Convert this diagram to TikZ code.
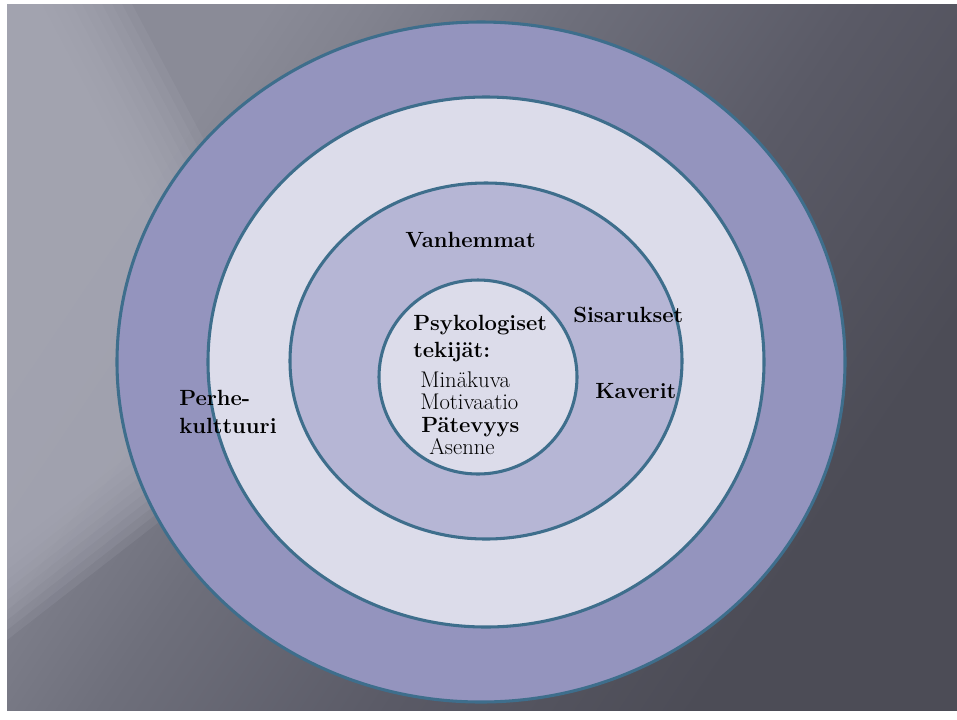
\documentclass[tikz,border=0pt]{standalone}
\usepackage{fontspec}
\definecolor{ringline}{HTML}{3E6E8C}
\definecolor{ringA}{HTML}{9494BE}
\definecolor{ringB}{HTML}{DCDCEA}
\definecolor{ringC}{HTML}{B6B6D5}
\definecolor{bgL}{HTML}{A9AAB7}
\definecolor{bgA}{HTML}{8A8B97}
\definecolor{bgA2}{HTML}{82838F}
\definecolor{bgB}{HTML}{6E6F7B}
\definecolor{bgC}{HTML}{5A5A66}
\definecolor{bgD}{HTML}{4C4C56}
\pgfdeclarehorizontalshading{bgshade}{100bp}{color(0bp)=(bgA); color(28bp)=(bgA); color(33bp)=(bgA2); color(43bp)=(bgB); color(57bp)=(bgC); color(72bp)=(bgD); color(100bp)=(bgD)}
\begin{document}
\begin{tikzpicture}[x=0.75pt,y=-0.75pt,
  ring/.style={draw=ringline,line width=2.3pt},
  head/.style={font=\fontsize{16.5}{20}\selectfont\bfseries,anchor=base west,inner sep=0pt,text=black},
  item/.style={font=\fontsize{17}{20}\selectfont,anchor=base west,inner sep=0pt,text=black}]
\useasboundingbox (0,0) rectangle (957,719);
\fill[white] (0,0) rectangle (957,719);
\shade[shading=bgshade,shading angle=-34] (7,4) rectangle (957,710);
% light diagonal streak (soft edges by stacking)
\foreach \i in {0,...,9}{
  \pgfmathsetmacro{\h}{\i*10}
  \pgfmathsetmacro{\v}{\i*10}
  \pgfmathsetmacro{\xt}{132-\h}
  \pgfmathsetmacro{\xi}{(471.4-\h-0.529*\v)/1.411}
  \pgfmathsetmacro{\yi}{640-\v-0.777*(\xi-7)}
  \pgfmathsetmacro{\yl}{640-\v}
  \fill[bgL,opacity=0.17] (7,4) -- (\xt,4) -- (\xi,\yi) -- (7,\yl) -- cycle;
}
% rings
\filldraw[ring,fill=ringA] (481,362) ellipse [x radius=364,y radius=340];
\filldraw[ring,fill=ringB] (486,362) ellipse [x radius=278,y radius=265];
\filldraw[ring,fill=ringC] (486,361) ellipse [x radius=196,y radius=178];
\filldraw[ring,fill=ringB] (478,377) ellipse [x radius=99,y radius=97];
% labels
\node[head] (vanh) at (405,247) {Vanhemmat};
\node[head] (sisa) at (573,322) {Sisarukset};
\node[head] (kave) at (595,398) {Kaverit};
\node[head] (perhe) at (179,405) {Perhe-};
\node[head] (kult) at (179,433) {kulttuuri};
\node[head] (psyk) at (413,330) {Psykologiset};
\node[head] (teki) at (413,357) {tekijät:};
\node[item] (mina) at (420,387) {Minäkuva};
\node[item] (moti) at (420,409) {Motivaatio};
\node[item,font=\fontsize{16.5}{20}\selectfont\bfseries] (pate) at (421,432) {Pätevyys};
\node[item] (asen) at (429,454) {Asenne};
\end{tikzpicture}
\end{document}
